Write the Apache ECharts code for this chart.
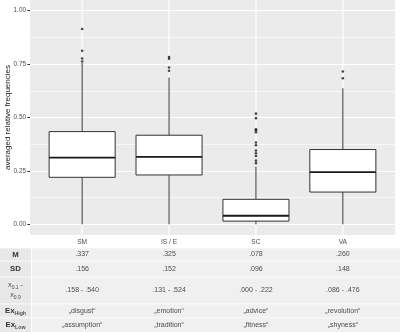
<!DOCTYPE html>
<html>
<head>
<meta charset="utf-8">
<script src="https://cdn.jsdelivr.net/npm/echarts@6/dist/echarts.min.js"></script>
<style>
  html, body { margin: 0; padding: 0; background: #fff; }
  #box { width: 400px; height: 332px; }
</style>
</head>
<body>
<div id="box"></div>
<script>
var categories = ['SM', 'IS / E', 'SC', 'VA'];
// lower whisker, Q1, median, Q3, upper whisker
var boxValues = [
  [0, 0.220, 0.312, 0.434, 0.755],
  [0, 0.231, 0.316, 0.417, 0.687],
  [0, 0.015, 0.040, 0.117, 0.270],
  [0, 0.151, 0.244, 0.350, 0.637]
];
// [category index, value]
var outliers = [
  [0, 0.914], [0, 0.812], [0, 0.776], [0, 0.762],
  [1, 0.783], [1, 0.775], [1, 0.734], [1, 0.719],
  [2, 0.518], [2, 0.497], [2, 0.445], [2, 0.440], [2, 0.431], [2, 0.383],
  [2, 0.370], [2, 0.345], [2, 0.333], [2, 0.320], [2, 0.298], [2, 0.286],
  [3, 0.715], [3, 0.684]
];
var yTicks = [0, 0.25, 0.5, 0.75, 1];

var rowLabels = [
  '{b|M}',
  '{b|SD}',
  '{n|x}{s|0.1}{n| -}\n{n|x}{s|0.9}',
  '{b|Ex}{sb|High}',
  '{b|Ex}{sb|Low}'
];
var meanVals = ['.337', '.325', '.078', '.260'];
var sdVals = ['.156', '.152', '.096', '.148'];
var rangeVals = ['.158 - .540', '.131 - .524', '.000 - .222', '.086 - .476'];
var exHigh = ['\u201Edisgust\u201C', '\u201Eemotion\u201C', '\u201Eadvice\u201C', '\u201Erevolution\u201C'];
var exLow = ['\u201Eassumption\u201C', '\u201Etradition\u201C', '\u201Efitness\u201C', '\u201Eshyness\u201C'];

var font = 'Liberation Sans';
var chart = echarts.init(document.getElementById('box'));

function renderBox(params, api) {
  var x = api.value(0);
  var lo = api.coord([x, api.value(1)]);
  var q1 = api.coord([x, api.value(2)]);
  var md = api.coord([x, api.value(3)]);
  var q3 = api.coord([x, api.value(4)]);
  var hi = api.coord([x, api.value(5)]);
  var half = api.size([1, 0])[0] * 0.38;
  var st = { stroke: '#333', lineWidth: 1, fill: null };
  return {
    type: 'group',
    children: [
      { type: 'line', shape: { x1: lo[0], y1: lo[1], x2: q1[0], y2: q1[1] }, style: st },
      { type: 'line', shape: { x1: q3[0], y1: q3[1], x2: hi[0], y2: hi[1] }, style: st },
      { type: 'rect', shape: { x: q3[0] - half, y: q3[1], width: half * 2, height: q1[1] - q3[1] },
        style: { fill: '#fff', stroke: '#333', lineWidth: 1 } },
      { type: 'line', shape: { x1: md[0] - half, y1: md[1], x2: md[0] + half, y2: md[1] },
        style: { stroke: '#1a1a1a', lineWidth: 1.8 } }
    ]
  };
}

function renderVLine(params, api) {
  var p = api.coord([api.value(0), 0]);
  var cs = params.coordSys;
  return {
    type: 'line',
    shape: { x1: p[0], y1: cs.y, x2: p[0], y2: cs.y + cs.height },
    style: { stroke: '#fff', lineWidth: 1.2 }
  };
}

chart.setOption({
  animation: false,
  grid: [
    { left: 30, width: 365, top: 10.7, height: 213.6, outerBoundsMode: 'none', containLabel: false },
    { left: 38.7, width: 347.6, top: 0, height: 235, outerBoundsMode: 'none', containLabel: false }
  ],
  xAxis: [
    { gridIndex: 0, type: 'value', show: false, min: 0, max: 1 },
    {
      gridIndex: 1, type: 'category', data: categories,
      axisLine: { show: false },
      axisTick: { alignWithLabel: true, length: 2.7, lineStyle: { color: '#333' } },
      axisLabel: { fontFamily: font, fontSize: 6.6, color: '#4d4d4d', margin: 3.5 },
      splitLine: { show: false }
    }
  ],
  yAxis: [
    {
      gridIndex: 0, type: 'value', min: 0, max: 1, interval: 0.25,
      name: 'averaged relative frequencies', nameLocation: 'middle', nameGap: 18,
      nameMoveOverlap: false,
      nameTextStyle: { fontFamily: font, fontSize: 8, color: '#1a1a1a' },
      axisLine: { show: false },
      axisTick: { show: true, length: 2.7, lineStyle: { color: '#333' } },
      axisLabel: {
        fontFamily: font, fontSize: 6.4, color: '#4d4d4d', margin: 4,
        formatter: function (v) { return yTicks.indexOf(v) >= 0 ? v.toFixed(2) : ''; }
      },
      splitLine: { show: true, lineStyle: { color: '#fff', width: 1.2 } },
      minorTick: { show: false, splitNumber: 2 },
      minorSplitLine: { show: true, lineStyle: { color: '#fff', width: 0.6 } }
    },
    { gridIndex: 1, type: 'value', min: -0.05, max: 1.05, show: false, splitLine: { show: false } }
  ],
  series: [
    {
      type: 'custom', name: 'vgrid', xAxisIndex: 1, yAxisIndex: 1, z: 1, silent: true,
      data: categories.map(function (c, i) { return [i]; }),
      encode: { x: 0 },
      renderItem: renderVLine
    },
    {
      type: 'custom', name: 'box', xAxisIndex: 1, yAxisIndex: 1, z: 2,
      data: boxValues.map(function (v, i) { return [i].concat(v); }),
      encode: { x: 0, y: [1, 2, 3, 4, 5] },
      renderItem: renderBox
    },
    {
      type: 'scatter', name: 'outliers', xAxisIndex: 1, yAxisIndex: 1, z: 3,
      symbol: 'circle', symbolSize: 2.6,
      itemStyle: { color: '#1a1a1a' },
      data: outliers
    }
  ]
});

// table under the plot
var rowTop = [248.3, 261.5, 277.5, 304.3, 318.3];
var rowBottom = [260.7, 276.7, 303.5, 317.5, 332];
var tableRows = [meanVals, sdVals, rangeVals, exHigh, exLow];
var labelW = 31;

var graphic = [{
  type: 'rect', z: -10, silent: true,
  shape: { x: 30, y: 0, width: 365, height: 235 },
  style: { fill: '#ebebeb' }
}];

var colX = categories.map(function (c, i) {
  return chart.convertToPixel({ xAxisIndex: 1 }, i);
});

tableRows.forEach(function (vals, r) {
  var h = rowBottom[r] - rowTop[r];
  var cy = (rowTop[r] + rowBottom[r]) / 2;
  graphic.push({
    type: 'rect', z: -10, silent: true,
    shape: { x: 0, y: rowTop[r], width: labelW, height: h },
    style: { fill: '#e8e8e8' }
  });
  graphic.push({
    type: 'rect', z: -10, silent: true,
    shape: { x: labelW + 1, y: rowTop[r], width: 400 - labelW - 1, height: h },
    style: { fill: '#f0f0f0' }
  });
  graphic.push({
    type: 'text', z: 5, silent: true,
    x: labelW / 2, y: cy,
    style: {
      text: rowLabels[r], align: 'center', verticalAlign: 'middle',
      rich: {
        b: { fontFamily: font, fontSize: 7.8, fontWeight: 'bold', fill: '#333' },
        n: { fontFamily: font, fontSize: 7.2, fill: '#4d4d4d', lineHeight: 10 },
        s: { fontFamily: font, fontSize: 5, fill: '#4d4d4d', padding: [4, 0, 0, 0] },
        sb: { fontFamily: font, fontSize: 5.2, fontWeight: 'bold', fill: '#4d4d4d', padding: [5, 0, 0, 0] }
      }
    }
  });
  vals.forEach(function (v, i) {
    graphic.push({
      type: 'text', z: 5, silent: true,
      x: colX[i], y: cy,
      style: {
        text: v, align: 'center', verticalAlign: 'middle',
        fontFamily: font, fontSize: 7, fill: '#4d4d4d'
      }
    });
  });
});

chart.setOption({ graphic: graphic });
</script>
</body>
</html>
